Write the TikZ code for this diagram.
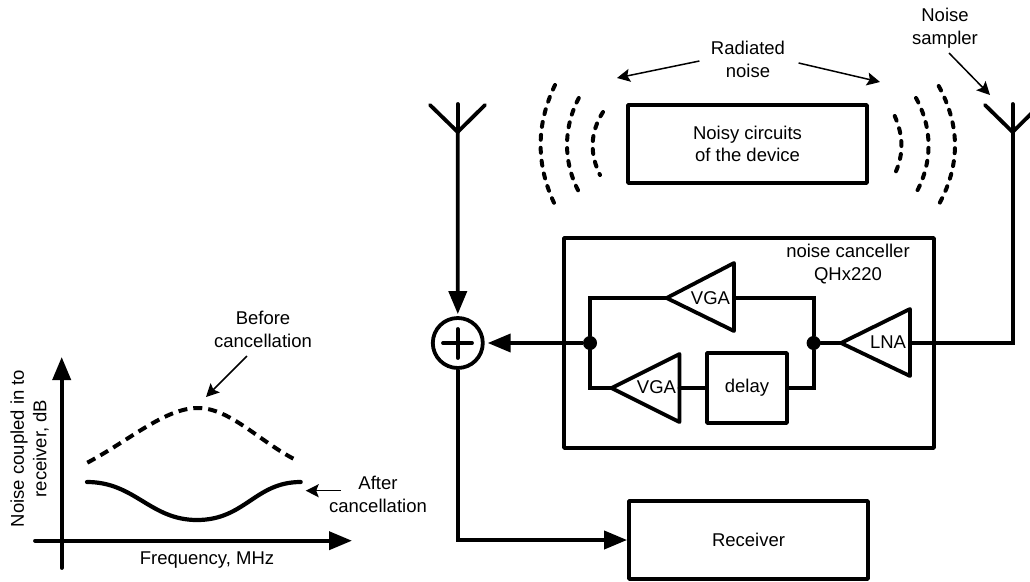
\documentclass[tikz,border=0pt]{standalone}
\usepackage{fontspec}
\setmainfont{Liberation Sans}
\usetikzlibrary{arrows.meta}
\tikzset{
  x=1pt,y=-1pt,
  thick line/.style={line width=3.8pt,line join=miter,line cap=round},
  box/.style={draw,line width=3.8pt,line join=round},
  label text/.style={font=\fontsize{18.5}{22.5}\selectfont,align=center,inner sep=0pt,text=black},
  thin arrow/.style={line width=1.5pt,-{Stealth[length=13pt,width=13pt,inset=2.5pt]}},
  big arrow/.style={line width=3.8pt,-{Triangle[length=23pt,width=18pt]}},
  wave/.style={line width=4pt,line cap=round,dash pattern=on 5pt off 8pt},
  dotnode/.style={circle,fill=black,draw=none,minimum size=14pt,inner sep=0pt},
}
\begin{document}
\begin{tikzpicture}
\useasboundingbox (0,0) rectangle (1030,581);
% chart
\coordinate (yb) at (61.7,568); \coordinate (yt) at (61.7,357);
\coordinate (xl) at (35,540.7); \coordinate (xr) at (352,540.7);
\draw[big arrow,line cap=round] (yb) -- (yt);
\draw[big arrow,line cap=round] (xl) -- (xr);
\draw[line width=4pt,dash pattern=on 9pt off 6pt] (87.3,462.7) .. controls (130,440) and (165,408) .. (198,408) .. controls (230,408) and (260,442) .. (296,460);
\draw[line width=4.2pt,line cap=round] (87,482) .. controls (135,482) and (150,520) .. (197,520) .. controls (245,520) and (255,482) .. (300.7,482);
\node[label text] (before) at (263,329.5) {Before\\cancellation};
\node[label text] (after) at (378,494.5) {After\\cancellation};
\node[label text] (freq) at (207,560) {Frequency, MHz};
\node[label text,rotate=90] (ylab) at (29.5,448.5) {Noise coupled in to\\receiver, dB};
\coordinate (beforetip) at (206,397); \coordinate (beforetail) at (247,356);
\coordinate (aftertip) at (305.7,490.7); \coordinate (aftertail) at (341,490.7);
\draw[thin arrow] (beforetail) -- (beforetip);
\draw[thin arrow] (aftertail) -- (aftertip);
% antennas
\coordinate (la) at (457.7,132); \coordinate (ra) at (1012.6,132);
\draw[thick line] (430,105) -- (la) -- (485,105);
\draw[thick line] (985,105) -- (ra) -- (1040,105);
\node[circle,draw,line width=3.8pt,minimum size=50pt,inner sep=0pt] (sum) at (457.8,343) {};
\draw[thick line] (443,343) -- (472,343) (457.8,329) -- (457.8,358);
\draw[thick line] (457.7,104) -- (la);
\draw[big arrow] (la) -- ([yshift=2pt]sum.north);
% noisy box and arcs
\node[box,minimum width=239pt,minimum height=78pt,label text] (noisy) at (747.5,144) {Noisy circuits\\of the device};
\draw[wave] (555,85) .. controls (535.8,125) and (535.8,165) .. (555,205);
\draw[wave] (578.8,98) .. controls (563,128) and (563,163) .. (579.5,193);
\draw[wave] (603,112) .. controls (589.7,133) and (589.7,154) .. (600,175);
\draw[wave] (894.7,116) .. controls (904,137) and (904,157) .. (892.8,178);
\draw[wave] (916,98) .. controls (932.7,128) and (932.7,163) .. (916,193);
\draw[wave] (938.7,86) .. controls (960.5,126) and (960.5,166) .. (938,206);
\node[label text] (rad) at (748,59.5) {Radiated\\noise};
\node[label text] (samp) at (945,28) {Noise\\sampler};
\coordinate (r1a) at (699.4,61); \coordinate (r1b) at (617,78);
\coordinate (r2a) at (798.6,63); \coordinate (r2b) at (880,82);
\coordinate (s1a) at (949,53); \coordinate (s1b) at (990,95);
\draw[thin arrow] (r1a) -- (r1b);
\draw[thin arrow] (r2a) -- (r2b);
\draw[thin arrow] (s1a) -- (s1b);
% canceller
\node[box,minimum width=370pt,minimum height=210pt] (canc) at (749,343) {};
\node[label text] (canctext) at (848,264) {noise canceller\\QHx220};
\node[dotnode] (dl) at (590,343) {};
\node[dotnode] (dr) at (813.6,343) {};
\coordinate (v1t) at (666.6,298); \coordinate (v1b) at (734,298);
\coordinate (v2t) at (611.5,388); \coordinate (v2b) at (679.5,388);
\coordinate (lt) at (841,343); \coordinate (lb) at (910,343);
\node[box,minimum width=80pt,minimum height=70pt,label text] (delay) at (747,388) {delay};
\draw[thick line,line join=round] (v1t) -- (734,263) -- (734,331) -- cycle;
\draw[thick line,line join=round] (v2t) -- (679.5,354) -- (679.5,422) -- cycle;
\draw[thick line,line join=round] (lt) -- (910,309) -- (910,376) -- cycle;
\node[label text] (v1) at (710.5,298) {VGA};
\node[label text] (v2) at (656.5,387) {VGA};
\node[label text] (lna) at (888,342) {LNA};
\draw[thick line,line join=miter] (dl) |- (v1t);
\draw[thick line,line join=miter] (dl) |- (v2t);
\draw[thick line,line join=miter] (dr) |- (v1b);
\draw[thick line,line join=miter] (dr) |- (delay.east);
\draw[thick line] (delay.west) -- (v2b);
\draw[thick line] (dr) -- (lt);
\draw[thick line,line join=miter] (lb) -| (ra);
\draw[thick line] (ra) -- (1012.6,104);
\draw[big arrow] (dl) -- ([xshift=3pt]sum.east);
% receiver
\node[box,minimum width=239pt,minimum height=78pt,label text] (recv) at (748.5,540) {Receiver};
\draw[big arrow,line join=miter] (sum.south) |- (recv.west);
\end{tikzpicture}
\end{document}
